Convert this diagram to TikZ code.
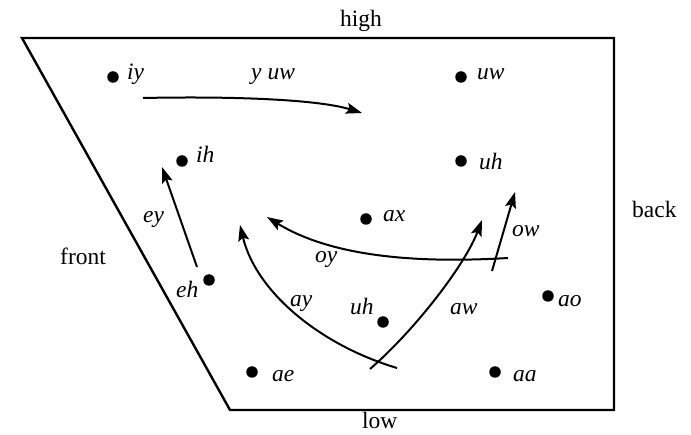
\documentclass[tikz,border=0pt]{standalone}
\usepackage{fontspec}
\setmainfont{Liberation Serif}
\usetikzlibrary{arrows.meta}
\begin{document}
\begin{tikzpicture}[x=1pt,y=-1pt,
  font=\fontsize{23.5}{28}\selectfont,
  frame/.style={line width=2.4pt, line join=miter},
  vdot/.style={circle, fill=black, inner sep=0pt, minimum size=11.5pt},
  lab/.style={anchor=base west, inner sep=0pt, font=\fontsize{23.5}{28}\selectfont\itshape},
  side/.style={anchor=base west, inner sep=0pt},
  glide/.style={line width=2pt, -{Stealth[length=16pt,width=11pt,inset=3pt]}},
  plain/.style={line width=2pt}]
\useasboundingbox (0,0) rectangle (691,435);

% vowel space
\draw[frame] (22,38) -- (614,38) -- (614,410) -- (230,410) -- cycle;

% side labels
\node[side] (high) at (340,27) {high};
\node[side] (back) at (632,218) {back};
\node[side] (front) at (60,265) {front};
\node[side] (low) at (362,429) {low};

% vowel dots
\node[vdot] (iy) at (113,77) {};
\node[vdot] (uw) at (461,77) {};
\node[vdot] (ih) at (182,161) {};
\node[vdot] (uhtop) at (461,161) {};
\node[vdot] (ax) at (366,219) {};
\node[vdot] (eh) at (209,280) {};
\node[vdot] (ao) at (548,296) {};
\node[vdot] (uhlow) at (383,322) {};
\node[vdot] (ae) at (252,372) {};
\node[vdot] (aa) at (495,372) {};

% vowel labels
\node[lab] (liy) at (127,80) {iy};
\node[lab] (luw) at (477,80) {uw};
\node[lab] (lih) at (196,163) {ih};
\node[lab] (luhtop) at (479,170) {uh};
\node[lab] (lax) at (383,222) {ax};
\node[lab] (leh) at (176,298) {eh};
\node[lab] (lao) at (558,307) {ao};
\node[lab] (luhlow) at (350,315) {uh};
\node[lab] (lae) at (272,382) {ae};
\node[lab] (laa) at (513,382) {aa};

% diphthong labels
\node[lab] (lyuw) at (251,80) {y uw};
\node[lab] (ley) at (143,223) {ey};
\node[lab] (loy) at (315,263) {oy};
\node[lab] (lay) at (290,307) {ay};
\node[lab] (law) at (450,315) {aw};
\node[lab] (low2) at (512,237) {ow};

% glide end points
\coordinate (yuwA) at (143,98);  \coordinate (yuwB) at (362,113);
\coordinate (eyA) at (197,267);  \coordinate (eyB) at (162,167);
\coordinate (oyA) at (508,258);  \coordinate (oyB) at (267,217);
\coordinate (ayA) at (397,368);  \coordinate (ayB) at (240,225);
\coordinate (awA) at (370,369);  \coordinate (awB) at (482,220);
\coordinate (owA) at (492,271);  \coordinate (owB) at (515,192);

% glides
\draw[glide] (yuwA) .. controls (240,96) and (320,100) .. (yuwB);
\draw[glide] (eyA) -- (eyB);
\draw[glide] (oyA) .. controls (440,262) and (340,262) .. (oyB);
\draw[glide] (ayA) .. controls (320,345) and (256,292) .. (ayB);
\draw[glide] (awA) .. controls (415,330) and (465,265) .. (awB);
\draw[glide] (owA) -- (owB);
\end{tikzpicture}
\end{document}
